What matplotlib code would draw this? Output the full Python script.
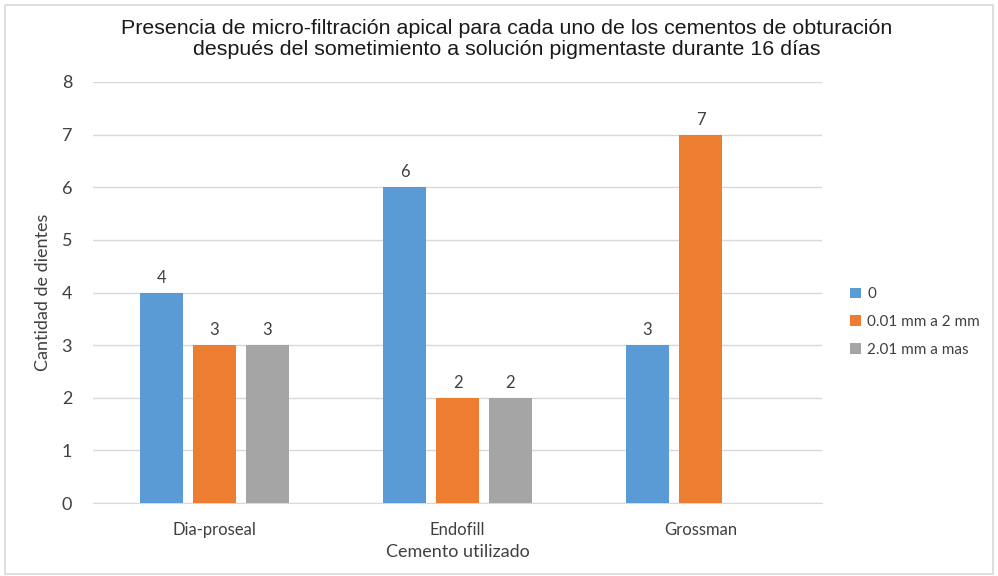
import matplotlib.pyplot as plt
import numpy as np
from matplotlib.patches import Rectangle

plt.rcParams['font.family'] = ['Lato', 'DejaVu Sans']

cementos = ["Dia-proseal", "Endofill", "Grossman"]
series = ["0", "0.01 mm a 2 mm", "2.01 mm a mas"]
vals_0 = [4, 6, 3]
vals_2mm = [3, 2, 7]
vals_mas = [3, 2, None]
colores = ["#5B9BD5", "#ED7D31", "#A5A5A5"]

fig = plt.figure(figsize=(9.98, 5.76), dpi=100)
# outer frame like the excel chart border
fig.patches.append(Rectangle((0.005, 0.004), 0.99, 0.988, transform=fig.transFigure,
                             fill=False, edgecolor="#D9D9D9", linewidth=1.2))

ax = fig.add_axes([93 / 998, 1 - 503 / 576, (822 - 93) / 998, (503 - 82) / 576])

x = np.arange(len(cementos))
w = 0.177
pitch = 0.218
for k, (vals, lab, col) in enumerate(zip([vals_0, vals_2mm, vals_mas], series, colores)):
    xs = [xi + (k - 1) * pitch for xi, v in zip(x, vals) if v is not None]
    vs = [v for v in vals if v is not None]
    bars = ax.bar(xs, vs, width=w, color=col, label=lab, zorder=3)
    for b, v in zip(bars, vs):
        ax.text(b.get_x() + b.get_width() / 2, v + 0.13, str(v), ha="center", va="bottom",
                fontsize=12, color="#404040")

ax.set_xlim(-0.5, 2.5)
ax.set_ylim(0, 8)
ax.set_yticks(range(0, 9))
ax.set_xticks(x)
ax.set_xticklabels(cementos)
ax.tick_params(axis="y", length=0, pad=15, labelsize=13, labelcolor="#404040")
ax.tick_params(axis="x", length=0, pad=14, labelsize=12, labelcolor="#404040")
ax.grid(axis="y", color="#D9D9D9", linewidth=1, zorder=0)
for s in ["top", "right", "left"]:
    ax.spines[s].set_visible(False)
ax.spines["bottom"].set_color("#D9D9D9")

ax.set_xlabel("Cemento utilizado", fontsize=13, color="#404040", labelpad=4)
ax.set_ylabel("Cantidad de dientes", fontsize=13, color="#404040", labelpad=8)

fig.text(0.508, 0.932, "Presencia de micro-filtración apical para cada uno de los cementos de obturación\n"
         "después del sometimiento a solución pigmentaste durante 16 días",
         ha="center", va="center", fontsize=15.4, family=["Liberation Sans", "DejaVu Sans"],
         color="#1a1a1a", linespacing=1.12)

ax.legend(loc="center left", bbox_to_anchor=(1.02, 0.43), frameon=False, fontsize=11,
          handlelength=0.7, handleheight=0.7, handletextpad=0.4, labelspacing=0.9,
          labelcolor="#404040")

fig.savefig("out.png", dpi=100)
